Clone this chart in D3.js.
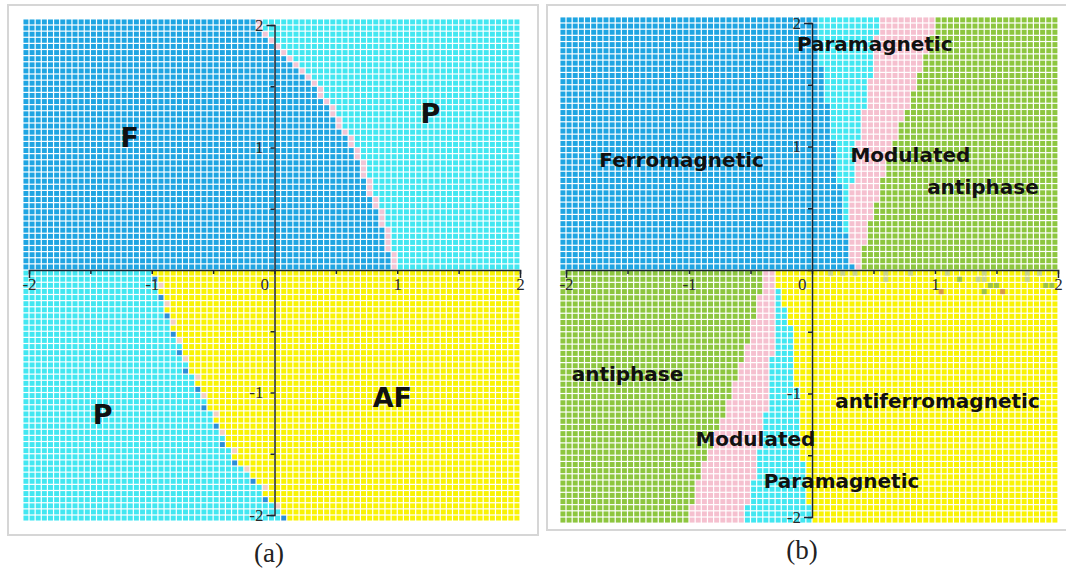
<!DOCTYPE html>
<html>
<head>
<meta charset="utf-8">
<script src="https://cdnjs.cloudflare.com/ajax/libs/d3/7.8.5/d3.min.js"></script>
<style>
body { margin: 0; background: #fff; }
svg { display: block; }
.tick text { font-family: "Liberation Serif", serif; font-size: 17px; fill: #2a2a2a; }
.region { font-family: "DejaVu Sans", sans-serif; font-weight: bold; fill: #111; text-anchor: middle; }
.caption { font-family: "Liberation Serif", serif; font-size: 27px; fill: #222; text-anchor: middle; }
</style>
</head>
<body>
<svg id="chart" width="1066" height="574"></svg>
<script>
'use strict';

// phase colours
const phase_colors = {
    F: '#1fa5e2',
    P: '#42e7f1',
    AF: '#f9f304',
    AP: '#8dc63f',
    M: '#f5c0cf'
};

const tick_values = [-2, -1.5, -1, -0.5, 0, 0.5, 1, 1.5, 2];

// phase boundaries, [x, y], listed from top to bottom
// panel (a)
const a_f_p = [[-0.22, 2.1], [-0.14, 1.97], [0.29, 1.53], [0.64, 1.0], [0.84, 0.44], [0.96, 0.06], [0.97, 0]];
const a_p_af = [[-1.0, 0], [-0.84, -0.47], [-0.61, -1.0], [-0.33, -1.55], [0.02, -1.93], [0.18, -2.1]];

// panel (b), upper half
const b_f_p = [[0.03, 2.1], [0.09, 1.5], [0.19, 1.0], [0.25, 0.45], [0.33, 0]];
const b_p_m = [[0.56, 2.1], [0.47, 1.53], [0.36, 1.0], [0.30, 0.45], [0.27, 0]];
const b_m_ap = [[1.05, 2.1], [0.85, 1.53], [0.66, 1.0], [0.49, 0.45], [0.37, 0]];
// panel (b), lower half
const b_ap_m = [[-0.37, 0], [-0.50, -0.5], [-0.67, -1.04], [-0.89, -1.59], [-1.03, -2.1]];
const b_m_p = [[-0.30, 0], [-0.30, -0.5], [-0.36, -1.04], [-0.45, -1.59], [-0.58, -2.1]];
const b_p_af = [[-0.30, 0], [-0.28, -0.15], [-0.15, -0.5], [-0.12, -1.04], [-0.07, -1.59], [0.0, -2.1]];

// stray cells just under the axis in panel (b)
const b_stray_grey = [[0.15, -0.025], [0.25, -0.025], [0.35, -0.025], [0.6, -0.025], [0.8, -0.025], [1.1, -0.025],
    [1.4, -0.025], [1.75, -0.025], [1.85, -0.025], [0.6, -0.075], [1.35, -0.075], [1.4, -0.075], [1.75, -0.075]];
const b_stray_green = [[1.2, -0.075], [1.45, -0.125], [1.5, -0.125], [1.9, -0.125], [1.95, -0.125], [1.4, -0.175]];
const b_stray_orange = [[1.05, -0.175], [1.55, -0.175]];

const a_labels = [
    { text: 'F', x: -1.18, y: 1.08 },
    { text: 'P', x: 1.27, y: 1.28 },
    { text: 'P', x: -1.40, y: -1.18 },
    { text: 'AF', x: 0.96, y: -1.04 }
];

const b_labels = [
    { text: 'Paramagnetic', x: 0.51, y: 1.83 },
    { text: 'Modulated', x: 0.80, y: 0.93 },
    { text: 'Ferromagnetic', x: -1.06, y: 0.89 },
    { text: 'antiphase', x: 1.39, y: 0.67 },
    { text: 'antiphase', x: -1.50, y: -0.84 },
    { text: 'antiferromagnetic', x: 1.02, y: -1.06 },
    { text: 'Modulated', x: -0.46, y: -1.37 },
    { text: 'Paramagnetic', x: 0.24, y: -1.71 }
];

const grid_step = 0.05;
const grid_xs = d3.range(81).map(i => -2.025 + i * grid_step);
const grid_ys = d3.range(82).map(i => 2.025 - i * grid_step);


// polygon of everything left of a boundary line
function left_of(line) {
    let top = line[0][1], bottom = line[line.length - 1][1];
    return line.concat([[-3, bottom], [-3, top]]);
}


function classify(px, py, upper, lower, up_default, low_default) {
    let list = py > 0 ? upper : lower;
    for (let b of list) {
        if (d3.polygonContains(b.poly, [px, py])) return b.phase;
    }
    return py > 0 ? up_default : low_default;
}


function draw_panel(svg, cfg) {
    const x = d3.scaleLinear().domain([-2, 2]).range(cfg.xrange);
    const y = d3.scaleLinear().domain([2, -2]).range(cfg.yrange);

    cfg.upper.forEach(b => b.poly = left_of(b.line));
    cfg.lower.forEach(b => b.poly = left_of(b.line));

    let cells = [];
    grid_ys.forEach((cy, r) => {
        let row = grid_xs.map(cx => ({
            x: cx, y: cy, r: r,
            phase: classify(cx, cy, cfg.upper, cfg.lower, cfg.up_default, cfg.low_default)
        }));
        row.forEach(d => d.color = phase_colors[d.phase]);
        if (cfg.accents) cfg.accents(row, r);
        cells = cells.concat(row);
    });

    let cw = x(grid_step) - x(0);
    let ch = y(0) - y(grid_step);

    svg.append('g')
        .selectAll('rect')
        .data(cells)
        .enter()
        .append('rect')
        .attr('x', d => x(d.x) - cw / 2 + 0.6)
        .attr('y', d => y(d.y) - ch / 2 + 0.6)
        .attr('width', cw - 1.2)
        .attr('height', ch - 1.2)
        .attr('fill', d => d.color);

    if (cfg.strays) {
        cfg.strays.forEach(s => {
            svg.append('g')
                .selectAll('rect')
                .data(s.cells)
                .enter()
                .append('rect')
                .attr('x', d => x(d[0]) - cw / 2 + 0.6)
                .attr('y', d => y(d[1]) - ch / 2 + 0.6)
                .attr('width', cw - 1.2)
                .attr('height', ch - 1.2)
                .attr('fill', s.color);
        });
    }

    const xAxis = svg.append('g')
        .attr('transform', `translate(0, ${y(0)})`)
        .call(d3.axisBottom(x)
            .tickValues(tick_values)
            .tickSize(4)
            .tickSizeOuter(8)
            .tickPadding(4)
            .tickFormat(d => Number.isInteger(d) ? String(d) : ''));
    xAxis.selectAll('.tick text').filter(d => d === 0).attr('dx', '-0.6em');

    svg.append('g')
        .attr('transform', `translate(${x(0)}, 0)`)
        .call(d3.axisLeft(y)
            .tickValues(tick_values)
            .tickSize(4)
            .tickSizeOuter(8)
            .tickPadding(7)
            .tickFormat(d => Number.isInteger(d) && d !== 0 ? String(d) : ''));

    svg.selectAll('.domain, .tick line')
        .attr('stroke', '#1c2430')
        .attr('stroke-width', 1.5);

    svg.append('g')
        .selectAll('text')
        .data(cfg.labels)
        .enter()
        .append('text')
        .attr('class', 'region')
        .attr('x', d => x(d.x))
        .attr('y', d => y(d.y))
        .attr('dy', '0.36em')
        .style('font-size', cfg.label_size)
        .text(d => d.text);
}


const svg = d3.select('#chart');

// panel frames
svg.append('rect').attr('x', 8).attr('y', 5).attr('width', 530).attr('height', 530)
    .attr('fill', 'none').attr('stroke', '#d6d6d6').attr('stroke-width', 2);
svg.append('rect').attr('x', 547).attr('y', 5).attr('width', 525).attr('height', 525)
    .attr('fill', 'none').attr('stroke', '#d6d6d6').attr('stroke-width', 2);

draw_panel(svg.append('g'), {
    xrange: [29, 520],
    yrange: [25, 515],
    upper: [{ phase: 'F', line: a_f_p }],
    lower: [{ phase: 'P', line: a_p_af }],
    up_default: 'P',
    low_default: 'AF',
    labels: a_labels,
    label_size: '27px',
    accents: function(row, r) {
        // boundary cells show up pink / dark blue in the picture
        let i = row.findIndex((d, k) => k > 0 && d.phase !== row[k - 1].phase);
        if (i < 0) return;
        if (row[i].y > 0) {
            row[i].color = '#f0c6d6';
        } else if (r % 3 === 0) {
            row[i - 1].color = '#2a8fd8';
        } else if (r % 3 === 1) {
            row[i].color = '#f3cfc0';
        }
    }
});

draw_panel(svg.append('g'), {
    xrange: [566, 1058],
    yrange: [23, 517],
    upper: [{ phase: 'F', line: b_f_p }, { phase: 'P', line: b_p_m }, { phase: 'M', line: b_m_ap }],
    lower: [{ phase: 'AP', line: b_ap_m }, { phase: 'M', line: b_m_p }, { phase: 'P', line: b_p_af }],
    up_default: 'AP',
    low_default: 'AF',
    labels: b_labels,
    label_size: '20px',
    strays: [
        { cells: b_stray_grey, color: '#c9d48e' },
        { cells: b_stray_green, color: '#9cc24a' },
        { cells: b_stray_orange, color: '#d89a4a' }
    ]
});

svg.append('text').attr('class', 'caption').attr('x', 269).attr('y', 562).text('(a)');
svg.append('text').attr('class', 'caption').attr('x', 802).attr('y', 559).text('(b)');
</script>
</body>
</html>
